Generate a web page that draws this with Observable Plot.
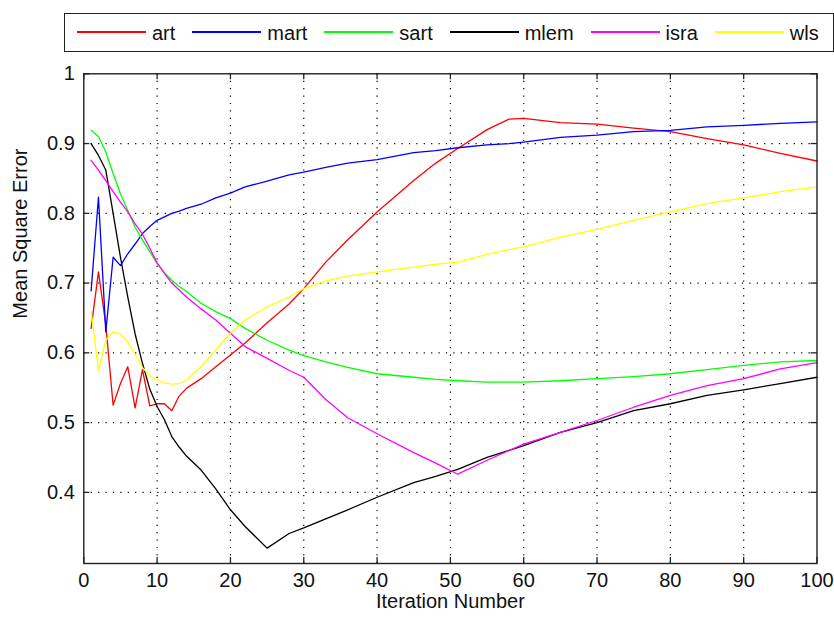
<!DOCTYPE html>
<html>
<head>
<meta charset="utf-8">
<script src="https://cdn.jsdelivr.net/npm/d3@7"></script>
<script src="https://cdn.jsdelivr.net/npm/@observablehq/plot@0.6"></script>
<style>
  body { margin: 0; background: #fff; font-family: "Liberation Sans", Arial, sans-serif; }
  #wrap { position: relative; width: 834px; height: 617px; overflow: hidden; background: #fff; }
  #legend { position: relative; height: 60px; }
  #legend .box { position: absolute; left: 64px; top: 13px; width: 770px; height: 39px; box-sizing: border-box;
    border: 1.5px solid #222; display: flex; align-items: center; padding-left: 12px; gap: 17px; background: #fff; }
  #legend .item { display: flex; align-items: center; white-space: nowrap; }
  #legend .swatch { width: 69px; height: 2px; margin-right: 6px; margin-top: -2px; }
  #legend .label { font-size: 20px; color: #111; line-height: 1; }
</style>
</head>
<body>
<div id="wrap">
  <div id="legend"><div class="box"></div></div>
  <div id="chart"></div>
</div>
<script>
// ---- data ----
const seriesNames = ["art", "mart", "sart", "mlem", "isra", "wls"];
const seriesColors = ["#ff0000", "#0000ff", "#00ff00", "#000000", "#ff00ff", "#ffff00"];

const iterations = [1,2,3,4,5,6,7,8,9,10,11,12,13,14,16,18,20,22,25,28,30,33,36,40,45,48,51,55,58,60,65,70,75,80,85,90,95,100];

const art  = [0.635,0.716,0.640,0.525,0.556,0.580,0.521,0.576,0.524,0.527,0.527,0.517,0.538,0.549,0.563,0.580,0.597,0.614,0.643,0.670,0.692,0.730,0.762,0.802,0.847,0.872,0.893,0.920,0.935,0.936,0.930,0.928,0.922,0.917,0.907,0.898,0.886,0.875];
const mart = [0.689,0.823,0.630,0.737,0.725,0.742,0.756,0.771,0.781,0.790,0.795,0.800,0.803,0.807,0.813,0.822,0.829,0.838,0.846,0.855,0.859,0.866,0.872,0.877,0.887,0.890,0.894,0.898,0.900,0.902,0.909,0.912,0.917,0.919,0.924,0.926,0.929,0.931];
const sart = [0.919,0.910,0.888,0.857,0.828,0.804,0.780,0.762,0.745,0.728,0.715,0.704,0.695,0.688,0.671,0.659,0.649,0.635,0.618,0.604,0.596,0.587,0.579,0.570,0.565,0.562,0.560,0.558,0.558,0.558,0.560,0.563,0.566,0.570,0.576,0.582,0.587,0.589];
const mlem = [0.900,0.883,0.862,0.800,0.737,0.680,0.627,0.585,0.548,0.523,0.504,0.480,0.465,0.452,0.432,0.405,0.375,0.351,0.320,0.341,0.349,0.362,0.375,0.393,0.414,0.423,0.433,0.450,0.460,0.467,0.486,0.500,0.517,0.527,0.539,0.547,0.556,0.565];
const isra = [0.876,0.862,0.847,0.831,0.816,0.802,0.785,0.770,0.750,0.729,0.714,0.700,0.690,0.680,0.663,0.647,0.628,0.609,0.592,0.575,0.565,0.533,0.507,0.484,0.457,0.442,0.426,0.446,0.460,0.469,0.486,0.503,0.522,0.539,0.553,0.563,0.577,0.586];
const wls  = [0.660,0.575,0.618,0.630,0.627,0.615,0.598,0.579,0.567,0.561,0.557,0.555,0.556,0.561,0.580,0.604,0.628,0.647,0.666,0.680,0.692,0.703,0.710,0.716,0.723,0.727,0.730,0.741,0.748,0.752,0.766,0.777,0.790,0.802,0.814,0.822,0.831,0.838];

const xTicks = [0,10,20,30,40,50,60,70,80,90,100];
const yTicks = [0.4,0.5,0.6,0.7,0.8,0.9,1];
const xLabel = ["Iteration Number"];
const yLabel = ["Mean Square Error"];

// ---- build table ----
const valuesBySeries = {art, mart, sart, mlem, isra, wls};
const rows = seriesNames.flatMap(name =>
  iterations.map((it, i) => ({series: name, iteration: it, value: valuesBySeries[name][i]})));

// ---- legend ----
const box = d3.select("#legend .box");
seriesNames.forEach((name, i) => {
  const item = box.append("div").attr("class", "item");
  item.append("div").attr("class", "swatch").style("background-color", seriesColors[i]);
  item.append("div").attr("class", "label").text(name);
});

// ---- chart ----
const W = 834, H = 557, mL = 83.3, mR = 17.5, mT = 13.3, mB = 54;
const plotH = H - mT - mB, plotW = W - mL - mR;
const tickLen = 6;
const gridStyle = {stroke: "#000", strokeOpacity: 1, strokeWidth: 1.2, strokeDasharray: "1.2,6.2"};

const chart = Plot.plot({
  width: W, height: H,
  marginLeft: mL, marginRight: mR, marginTop: mT, marginBottom: mB,
  style: {fontFamily: "'Liberation Sans', Arial, sans-serif", fontSize: "20px", background: "#fff", color: "#111", overflow: "visible"},
  x: {domain: [0, 100], label: null},
  y: {domain: [0.298, 1], label: null},
  color: {domain: seriesNames, range: seriesColors},
  marks: [
    Plot.gridX(xTicks.filter(d => d > 0 && d < 100), gridStyle),
    Plot.gridY(yTicks.filter(d => d < 1), gridStyle),
    Plot.line(rows, {x: "iteration", y: "value", z: "series", stroke: "series", strokeWidth: 1.3, curve: "linear"}),
    Plot.tickX(xTicks, {x: d => d, insetTop: plotH - tickLen, stroke: "#222", strokeWidth: 1.3}),
    Plot.tickX(xTicks, {x: d => d, insetBottom: plotH - tickLen, stroke: "#222", strokeWidth: 1.3}),
    Plot.tickY(yTicks, {y: d => d, insetRight: plotW - tickLen, stroke: "#222", strokeWidth: 1.3}),
    Plot.tickY(yTicks, {y: d => d, insetLeft: plotW - tickLen, stroke: "#222", strokeWidth: 1.3}),
    Plot.frame({stroke: "#222", strokeWidth: 1.4}),
    Plot.axisX(xTicks, {tickSize: 0, tickPadding: 9, tickFormat: d => String(d), fill: "#111"}),
    Plot.axisY(yTicks, {tickSize: 0, tickPadding: 9, tickFormat: d => String(d), fill: "#111"}),
    Plot.text(xLabel, {text: d => d, frameAnchor: "bottom", dy: 44, fontSize: 20, fill: "#111"}),
    Plot.text(yLabel, {text: d => d, frameAnchor: "left", dx: -63.3, rotate: -90, fontSize: 20, fill: "#111"})
  ]
});
document.getElementById("chart").appendChild(chart);
</script>
</body>
</html>
